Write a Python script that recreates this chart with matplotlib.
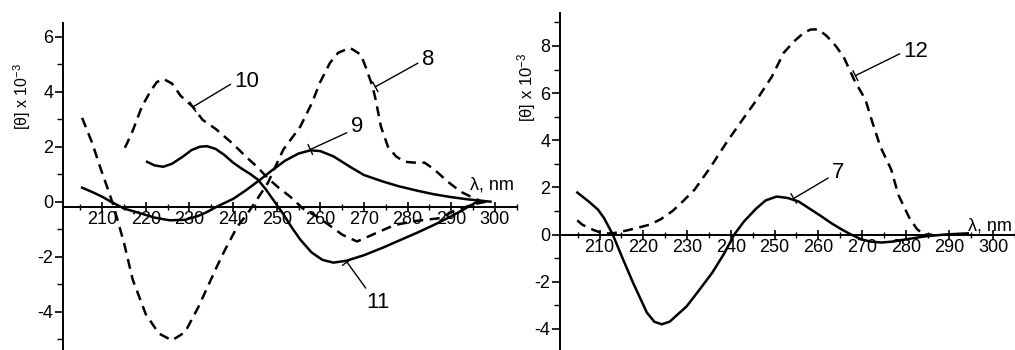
import numpy as np
import matplotlib
matplotlib.use("Agg")
import matplotlib.pyplot as plt
from matplotlib.patches import ArrowStyle

plt.rcParams['font.family'] = ['Liberation Sans', 'DejaVu Sans']
plt.rcParams['mathtext.fontset'] = 'custom'
plt.rcParams['mathtext.rm'] = 'Liberation Sans'
plt.rcParams['mathtext.it'] = 'Liberation Sans:italic'
plt.rcParams['axes.unicode_minus'] = False #Plain hyphen for negative tick labels.

#Left panel, curve 8 (dashed)
x8 = [205.4, 207.7, 209.5, 211.1, 212.5, 215, 217, 220, 223, 226, 229, 232, 236.3, 238, 241, 243, 245,
      248, 251.5, 255.4, 258.1, 259.9, 262.2, 264.1, 266.8, 269.3, 270.4, 272, 272.7, 273.9, 275.5,
      277.4, 279.4, 281.7, 283.9, 286.2, 289.2, 292.2, 294.5, 297]
y8 = [3.05, 2.14, 1.27, 0.55, -0.1, -1.5, -2.84, -4.1, -4.8, -5.05, -4.75, -3.85, -2.36, -1.8, -0.9, -0.5, -0.04,
      0.69, 1.89, 2.73, 3.6, 4.33, 5.05, 5.42, 5.6, 5.35, 4.9, 4.18, 3.7, 2.73, 2.0,
      1.64, 1.45, 1.42, 1.42, 1.16, 0.73, 0.36, 0.18, 0.0]

#Left panel, curve 10 (dashed)
x10 = [215.2, 216.8, 219.1, 221, 222.5, 224, 226, 228, 230.8, 233, 236, 240, 243.2, 245.5, 248, 250.5,
       253.1, 256, 259.3, 262, 265, 268.4, 272, 277, 282, 287.5, 290.5, 295, 298]
y10 = [1.96, 2.5, 3.46, 4.0, 4.35, 4.47, 4.3, 3.85, 3.45, 2.98, 2.65, 2.1, 1.6, 1.27, 0.85, 0.5,
       0.18, -0.25, -0.55, -0.85, -1.2, -1.45, -1.2, -0.85, -0.7, -0.6, -0.35, -0.1, 0.0]

#Left panel, curve 9 (solid)
x9 = [205.4, 208, 210, 212, 215, 219.3, 222, 225.5, 229, 232, 234, 236.3, 240, 243, 246.2, 249, 252, 255,
      257.7, 260, 263, 266.8, 270, 274.4, 278, 282.2, 286, 289.8, 294, 299]
y9 = [0.51, 0.33, 0.18, 0.0, -0.25, -0.45, -0.58, -0.68, -0.66, -0.52, -0.38, -0.18, 0.1, 0.42, 0.8, 1.15, 1.5, 1.75,
      1.87, 1.84, 1.65, 1.27, 0.97, 0.73, 0.56, 0.4, 0.27, 0.17, 0.08, 0.0]

#Left panel, curve 11 (solid)
x11 = [220.3, 222, 224, 226, 228.5, 230.5, 232.4, 234, 236, 238, 240, 242, 244, 245.7, 247.5, 249.5, 251.5,
       253.5, 255.4, 258, 260.5, 263, 266, 270, 274.4, 278, 282.2, 286, 289.8, 293, 296]
y11 = [1.45, 1.32, 1.27, 1.38, 1.64, 1.88, 2.0, 2.02, 1.92, 1.7, 1.42, 1.2, 1.0, 0.8, 0.45, 0.0, -0.45,
       -0.95, -1.38, -1.85, -2.12, -2.22, -2.15, -1.95, -1.67, -1.42, -1.13, -0.85, -0.55, -0.27, 0.0]

#Right panel, curve 7 (solid)
x7 = [204.9, 207.5, 209.6, 211, 213, 215, 217.6, 220.8, 222.5, 224.2, 226, 229.9, 232.8, 235.8, 238.5, 240.8,
      243, 245.8, 248, 250.5, 253, 255.5, 258, 260.8, 263, 265.4, 267.5, 269.9, 272, 274.4, 277, 279.9,
      284.4, 289, 294.2]
y7 = [1.78, 1.4, 1.06, 0.7, 0.0, -0.9, -2.03, -3.31, -3.7, -3.81, -3.7, -3.05, -2.35, -1.61, -0.8, 0.0,
      0.55, 1.1, 1.45, 1.61, 1.55, 1.4, 1.1, 0.76, 0.48, 0.21, 0.0, -0.21, -0.3, -0.34, -0.3, -0.21,
      -0.08, 0.0, 0.05]

#Right panel, curve 12 (dashed)
x12 = [204.9, 206, 208.5, 210.8, 213, 216.2, 219, 221.5, 224, 226.7, 229, 231.7, 235.3, 239, 242.4, 245.8,
       249.4, 252.1, 254.5, 256.7, 258.3, 260, 261.9, 264, 265.8, 268.3, 270.8, 272.4, 274.2, 276.7,
       278.3, 280.8, 282.5, 284, 286]
y12 = [0.6, 0.42, 0.2, 0.04, 0.05, 0.17, 0.3, 0.42, 0.65, 1.0, 1.4, 1.9, 2.84, 3.9, 4.8, 5.68,
       6.7, 7.71, 8.2, 8.56, 8.7, 8.7, 8.43, 8.0, 7.54, 6.53, 5.72, 4.75, 3.73, 2.75,
       1.69, 0.72, 0.25, 0.0, 0.0]

fig = plt.figure(figsize=(10.15, 3.5), dpi=100)
ax1 = fig.add_axes([0.062, 0.0, 0.447, 0.934])
ax2 = fig.add_axes([0.552, 0.0, 0.448, 0.963])

dash = (0, (4, 2.6))
lw = 1.8

ax1.plot(x8, y8, color='black', lw=lw, linestyle=dash)
ax1.plot(x10, y10, color='black', lw=lw, linestyle=dash)
ax1.plot(x9, y9, color='black', lw=lw)
ax1.plot(x11, y11, color='black', lw=lw)

ax2.plot(x12, y12, color='black', lw=lw, linestyle=dash)
ax2.plot(x7, y7, color='black', lw=lw)

#Curve number labels with leader lines
tick_end = ArrowStyle("|-|", widthA=0, widthB=0.25)
def label(ax, text, xy, xytext, rel):
    ax.annotate(text, xy=xy, xytext=xytext, ha='center', va='center', fontsize=16,
                arrowprops=dict(arrowstyle=tick_end, color='black', lw=1.0, relpos=rel,
                                shrinkA=1, shrinkB=0))

label(ax1, "10", (230.8, 3.45), (243.2, 4.36), (0, 0.5))
label(ax1, "8", (272.6, 4.18), (284.7, 5.16), (0, 0.45))
label(ax1, "9", (257.7, 1.9), (268.4, 2.73), (0, 0.3))
label(ax1, "11", (266.1, -2.2), (273.2, -3.67), (0.1, 1))
label(ax2, "12", (268.5, 6.74), (282.4, 7.75), (0, 0.5))
label(ax2, "7", (254.4, 1.53), (264.6, 2.63), (0, 0.35))

for ax, ylo, yhi, x0, ypos in [(ax1, -5.4, 6.5, -0.18, 0.45), (ax2, -4.9, 9.4, 0.0, 0.15)]:
    ax.set_xlim(201, 305)
    ax.set_ylim(ylo, yhi)
    ax.spines['top'].set_visible(False)
    ax.spines['right'].set_visible(False)
    ax.spines['bottom'].set_position(('data', x0))
    ax.spines['left'].set_linewidth(1.4)
    ax.spines['bottom'].set_linewidth(1.4)
    ax.set_xticks(np.arange(210, 301, 10))
    ax.set_xticks(np.arange(205, 306, 5), minor=True)
    ax.tick_params(axis='x', which='major', direction='inout', length=7, width=1.2, labelsize=13, pad=0)
    ax.tick_params(axis='x', which='minor', direction='inout', length=5, width=1.0)
    ax.tick_params(axis='y', which='major', direction='out', length=6, width=1.2, labelsize=13, pad=1)
    ax.tick_params(axis='y', which='minor', direction='out', length=4, width=1.0)
    ax.text(299.3, ypos, "λ, nm", ha='center', va='baseline', fontsize=13)
    ax.patch.set_alpha(0)

ax1.set_yticks(np.arange(-4, 7, 2))
ax1.set_yticks(np.arange(-5, 7, 1), minor=True)
ax2.set_yticks(np.arange(-4, 9, 2))
ax2.set_yticks(np.arange(-3, 10, 2), minor=True)

ax1.set_ylabel("[θ] x 10$^{-3}$", fontsize=11.5)
ax1.yaxis.set_label_coords(-0.066, 0.774)
ax2.set_ylabel("[θ] x 10$^{-3}$", fontsize=12)
ax2.yaxis.set_label_coords(-0.05, 0.78)

plt.savefig('out.png', dpi=100, facecolor='white')
plt.close()
